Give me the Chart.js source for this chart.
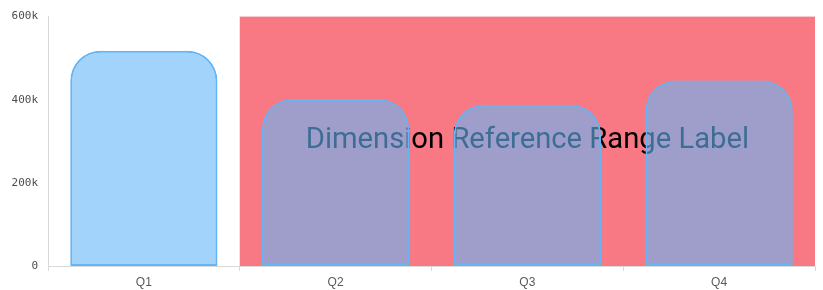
<!DOCTYPE html>
<html>
<head>
<meta charset="utf-8">
<script src="https://cdn.jsdelivr.net/npm/chart.js@4"></script>
<style>
  html, body { margin: 0; padding: 0; background: #fff; }
  #wrap { width: 823px; height: 290px; }
</style>
</head>
<body>
<div id="wrap"><canvas id="c" width="823" height="290"></canvas></div>
<script>
const categories = ['Q1', 'Q2', 'Q3', 'Q4'];
const values = [518000, 402000, 388000, 446000];
const yTicks = [0, 200000, 400000, 600000];
const refRangeFrom = 'Q2';
const refRangeTo = 'Q4';
const refRangeLabel = 'Dimension Reference Range Label';

const rangePlugin = {
  id: 'dimRange',
  beforeDatasetsDraw(chart) {
    const { ctx, chartArea, scales } = chart;
    const x = scales.x;
    const i0 = categories.indexOf(refRangeFrom);
    const i1 = categories.indexOf(refRangeTo);
    const left = x.getPixelForValue(i0 - 0.5);
    const right = x.getPixelForValue(i1 + 0.5);
    ctx.save();
    ctx.fillStyle = '#F87984';
    ctx.fillRect(left, chartArea.top, right - left, chartArea.bottom - chartArea.top);
    ctx.fillStyle = '#000';
    ctx.font = '29.2px Roboto';
    ctx.textAlign = 'center';
    ctx.textBaseline = 'middle';
    ctx.fillText(refRangeLabel, (left + right) / 2, (chartArea.top + chartArea.bottom) / 2 - 1);
    ctx.restore();
  }
};

new Chart(document.getElementById('c'), {
  type: 'bar',
  data: {
    labels: categories,
    datasets: [{
      data: values,
      backgroundColor: 'rgba(100,181,246,0.6)',
      borderColor: '#64B5F6',
      borderWidth: 2,
      borderSkipped: false,
      borderRadius: { topLeft: 30, topRight: 30, bottomLeft: 0, bottomRight: 0 },
      categoryPercentage: 0.8,
      barPercentage: 0.96
    }]
  },
  options: {
    responsive: false,
    animation: false,
    layout: { padding: { top: 15, right: 8, left: 0, bottom: 0 } },
    plugins: { legend: { display: false }, tooltip: { enabled: false } },
    scales: {
      x: {
        grid: { display: true, drawOnChartArea: false, offset: true, tickLength: 5, color: '#d9d9d9' },
        border: { color: '#d9d9d9' },
        ticks: { color: '#595959', font: { family: 'Liberation Sans, Arial', size: 12 }, padding: 4 },
        afterFit(s) { s.height = 24; }
      },
      y: {
        min: 0,
        max: 600000,
        afterBuildTicks(s) { s.ticks = yTicks.map(v => ({ value: v })); },
        grid: { display: false, drawTicks: false },
        border: { color: '#d9d9d9' },
        ticks: {
          color: '#4d4d4d',
          font: { family: 'DejaVu Sans Mono', size: 11 },
          padding: 10,
          callback: v => v === 0 ? '0' : (v / 1000) + 'k'
        },
        afterFit(s) { s.width = 48; }
      }
    }
  },
  plugins: [rangePlugin]
});
</script>
</body>
</html>
